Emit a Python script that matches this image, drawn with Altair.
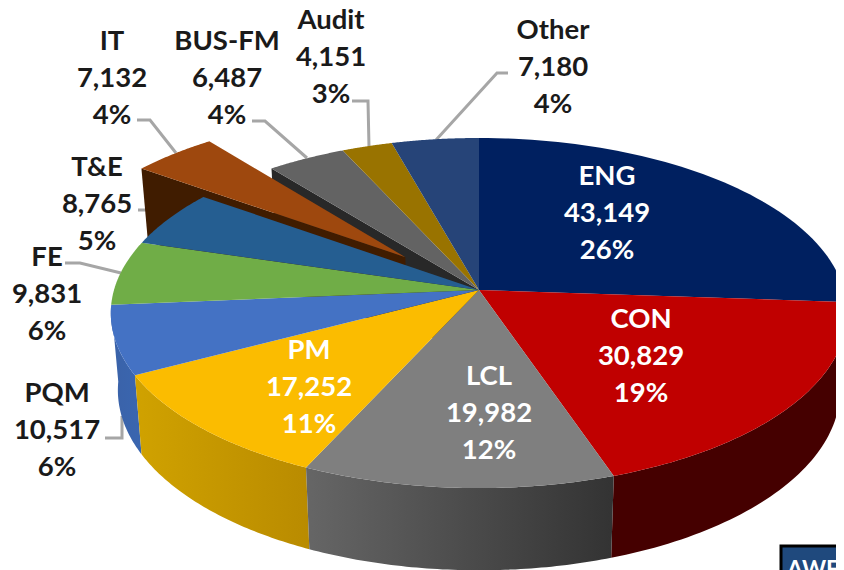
import math
import altair as alt

names = ["ENG", "CON", "LCL", "PM", "PQM", "FE", "T&E", "IT", "BUS-FM", "Audit", "Other"]
values = [43149, 30829, 19982, 17252, 10517, 9831, 8765, 7132, 6487, 4151, 7180]
value_labels = ["43,149", "30,829", "19,982", "17,252", "10,517", "9,831", "8,765", "7,132", "6,487", "4,151", "7,180"]
pct_labels = ["26%", "19%", "12%", "11%", "6%", "6%", "5%", "4%", "4%", "3%", "4%"]
top_colors = ["#002060", "#C00000", "#7F7F7F", "#FBBC00", "#4472C4", "#70AD47", "#255E91", "#9E480E", "#636363", "#997300", "#264478"]

# layout (page pixels)
W, H, M = 844, 570, 8
CW, CH = W - 2 * M, H - M
CX, CY, R, S, K = 479.0, 290.0, 365.0, 172.0, 0.1315
RB, SB, DEPTH = 358.0, 177.0, 76.5
EXPLODE = {"IT": 0.285}
TEXT_SHIFT = 2
label_pos = {"ENG": (607, 212), "CON": (641, 355), "LCL": (489, 412), "PM": (309, 386),
             "PQM": (57, 429), "FE": (47, 293), "T&E": (97, 203), "IT": (112, 77),
             "BUS-FM": (227, 77), "Audit": (331, 56), "Other": (553, 66)}
leaders = {"IT": [(137, 120), (150, 120), (176, 153)],
           "BUS-FM": [(252, 121), (265, 121), (307, 158)],
           "Audit": [(352, 101), (368, 101), (369, 147)],
           "Other": [(508, 73), (497, 73), (436, 140)],
           "T&E": [(138, 210), (153, 210), (170, 218)],
           "FE": [(65, 263), (80, 263), (121, 273)],
           "PQM": [(105, 438), (122, 438), (122, 416)]}

total = sum(values)
angles = [0.0]
for v in values:
    angles.append(angles[-1] + v / total * 2 * math.pi)


def top(u, v):
    d = 1 + K * v
    return (CX + R * u / d, CY - S * v / d)


def bottom(u, v):
    d = 1 + K * v
    return (CX + RB * u / d, CY + DEPTH - SB * v / d)


def arc(a0, a1, n=60):
    return [(math.sin(a0 + (a1 - a0) * i / n), math.cos(a0 + (a1 - a0) * i / n)) for i in range(n + 1)]


def feature(points):
    ring = [list(p) for p in points]
    ring.append(ring[0])
    return {"type": "Feature", "properties": {}, "geometry": {"type": "Polygon", "coordinates": [ring]}}


def shape(points, fill):
    return alt.Chart(alt.Data(values=[feature(points)])).mark_geoshape(
        fill=fill, strokeWidth=0, clip=True
    ).project(type="identity", scale=1, translate=[-M, -M])


def grad(c0, c1):
    return alt.Gradient(gradient="linear", x1=0, x2=1, y1=0, y2=0,
                        stops=[alt.GradientStop(color=c0, offset=0), alt.GradientStop(color=c1, offset=1)])


xs = alt.Scale(domain=[M, M + CW], range=[0, CW])
ys = alt.Scale(domain=[M, M + CH], range=[0, CH])
layers = []

# leader lines
for nm, pts in leaders.items():
    rows = [{"px": p[0], "py": p[1], "i": i} for i, p in enumerate(pts)]
    layers.append(alt.Chart(alt.Data(values=rows)).mark_line(color="#A6A6A6", strokeWidth=3).encode(
        x=alt.X("px:Q", scale=xs, axis=None),
        y=alt.Y("py:Q", scale=ys, axis=None),
        order="i:Q"))

# outer walls, front-facing slices, back to front
wall_fill = {
    "ENG": "#00102F",
    "PQM": grad("#3A62A8", "#3A66B0"),
    "PM": grad("#D0A200", "#B98B00"),
    "CON": "#450000",
    "LCL": grad("#666666", "#333333"),
}
idx = {n: i for i, n in enumerate(names)}
for nm in ["ENG", "PQM", "PM", "CON", "LCL"]:
    i = idx[nm]
    a0, a1 = angles[i], angles[i + 1]
    if nm == "ENG":
        a0 = math.pi / 2
    rim = arc(a0, a1)
    pts = [top(u, v) for u, v in rim] + [bottom(u, v) for u, v in reversed(rim)]
    layers.append(shape(pts, wall_fill[nm]))


def exploded(nm, a0, a1):
    e = EXPLODE.get(nm, 0)
    mid = (a0 + a1) / 2
    du, dv = e * math.sin(mid), e * math.cos(mid)
    return du, dv


# cut wall of BUS-FM, seen through the gap left by the pulled-out IT slice
i = idx["BUS-FM"]
u0, v0 = math.sin(angles[i]), math.cos(angles[i])
layers.append(shape([top(0, 0), top(u0, v0), bottom(u0, v0), bottom(0, 0)], "#282828"))

# cut wall of IT
i = idx["IT"]
du, dv = exploded("IT", angles[i], angles[i + 1])
u0, v0 = math.sin(angles[i]) + du, math.cos(angles[i]) + dv
layers.append(shape([top(du, dv), top(u0, v0), bottom(u0, v0), bottom(du, dv)], "#401C00"))

# top faces
for i, nm in enumerate(names):
    du, dv = exploded(nm, angles[i], angles[i + 1])
    rim = arc(angles[i], angles[i + 1])
    pts = [top(du, dv)] + [top(u + du, v + dv) for u, v in rim]
    layers.append(shape(pts, top_colors[i]))

# labels
rows = []
for i, nm in enumerate(names):
    lx, ly = label_pos[nm]
    colour = "white" if nm in ("ENG", "CON", "LCL", "PM") else "#1A1A1A"
    for k, t in enumerate([nm, value_labels[i], pct_labels[i]]):
        rows.append({"px": lx, "py": ly + TEXT_SHIFT + (k - 1) * 37, "t": t, "c": colour})
layers.append(alt.Chart(alt.Data(values=rows)).mark_text(
    font="Lato", fontWeight="bold", fontSize=27.5, align="center", baseline="middle"
).encode(
    x=alt.X("px:Q", scale=xs, axis=None),
    y=alt.Y("py:Q", scale=ys, axis=None),
    text="t:N",
    color=alt.Color("c:N", scale=None),
))

# box in the corner
layers.append(alt.Chart(alt.Data(values=[{"x0": 781, "x1": 860, "y0": 546, "y1": 590}])).mark_rect(
    fill="#1F497D", stroke="#000000", strokeWidth=3, clip=True
).encode(
    x=alt.X("x0:Q", scale=xs, axis=None),
    x2="x1:Q",
    y=alt.Y("y0:Q", scale=ys, axis=None),
    y2="y1:Q",
))
layers.append(alt.Chart(alt.Data(values=[{"px": 787, "py": 577, "t": "AWE C"}])).mark_text(
    font="Lato", fontWeight="bold", fontSize=23, align="left", baseline="alphabetic", color="white", clip=True
).encode(
    x=alt.X("px:Q", scale=xs, axis=None),
    y=alt.Y("py:Q", scale=ys, axis=None),
    text="t:N",
))

chart = alt.layer(*layers).properties(
    width=CW, height=CH, padding=0,
    autosize=alt.AutoSizeParams(type="none"),
).configure_view(stroke=None)

chart.save("out.html", embed_options={"renderer": "svg", "actions": False})
